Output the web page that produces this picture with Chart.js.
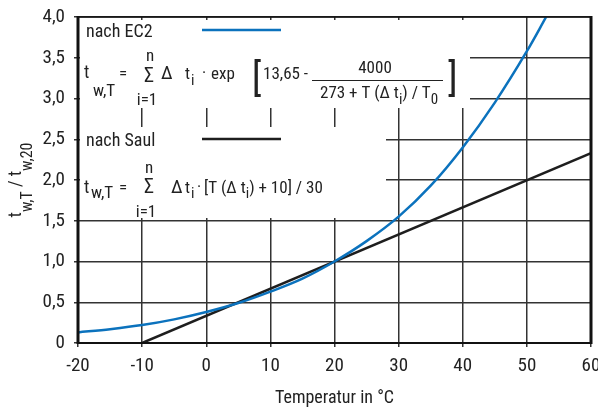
<!DOCTYPE html>
<html><head><meta charset="utf-8">
<script src="https://cdn.jsdelivr.net/npm/chart.js@4"></script>
<style>html,body{margin:0;padding:0;background:#fff}#wrap{width:598px;height:409px;position:relative}</style>
</head><body><div id="wrap"><canvas id="c" width="598" height="409"></canvas></div>
<script>
// ---- data ----
const ec2Temps  = [-20, -15, -10, -5, 0, 5, 10, 15, 20, 25, 30, 35, 40, 45, 50, 53];
const ec2Values = [0.13, 0.17, 0.22, 0.29, 0.38, 0.49, 0.63, 0.79, 1.0, 1.25, 1.55, 1.93, 2.40, 2.95, 3.58, 4.0];
const saulTemps  = [-10, 60];
const saulValues = [0, 2.33];
const xTickValues = [-20, -10, 0, 10, 20, 30, 40, 50, 60];
const yTickValues = [0, 0.5, 1, 1.5, 2, 2.5, 3, 3.5, 4];
const xTitle = 'Temperatur in °C';

const F = '"Roboto Condensed", "Liberation Sans Narrow", "DejaVu Sans Condensed", sans-serif';
const TXT = '#222';
const BLUE = '#0b72bd';
const BLACK = '#1e1e1e';

function txt(ctx, s, x, y, size, align, weight) {
  ctx.font = (weight ? weight + ' ' : '') + size + 'px ' + F;
  ctx.textAlign = align || 'left';
  ctx.textBaseline = 'alphabetic';
  ctx.fillStyle = TXT;
  ctx.fillText(s, x, y);
  return x + ctx.measureText(s).width;
}

const overlay = {
  id: 'overlay',
  beforeDatasetsDraw(chart) {
    const ctx = chart.ctx;
    ctx.save();
    ctx.fillStyle = '#fff';
    ctx.fillRect(80, 20, 390, 88);
    ctx.fillRect(80, 127, 306, 91);
    ctx.restore();
  },
  afterDatasetsDraw(chart) {
    const ctx = chart.ctx;
    const a = chart.chartArea;
    ctx.save();
    ctx.strokeStyle = '#111';
    ctx.lineWidth = 1.6;
    ctx.beginPath(); ctx.moveTo(a.left, a.top); ctx.lineTo(a.right, a.top); ctx.stroke();
    ctx.lineWidth = 2;
    ctx.beginPath(); ctx.moveTo(a.left, a.bottom); ctx.lineTo(a.right, a.bottom); ctx.stroke();
    ctx.lineWidth = 3;
    ctx.beginPath(); ctx.moveTo(a.left, a.top - 1); ctx.lineTo(a.left, a.bottom + 1); ctx.stroke();
    ctx.beginPath(); ctx.moveTo(a.right, a.top - 1); ctx.lineTo(a.right, a.bottom + 1); ctx.stroke();

    // legend samples
    ctx.lineWidth = 2.5;
    ctx.strokeStyle = BLUE;
    ctx.beginPath(); ctx.moveTo(202, 30); ctx.lineTo(281, 30); ctx.stroke();
    ctx.strokeStyle = BLACK;
    ctx.beginPath(); ctx.moveTo(202, 139); ctx.lineTo(281, 139); ctx.stroke();

    txt(ctx, 'nach EC2', 86, 37, 18);
    txt(ctx, 'nach Saul', 86, 146, 18);

    // formula 1
    const B1 = 79;
    txt(ctx, 't', 84, B1 - 1, 18);
    txt(ctx, 'w,T', 93, B1 + 17, 17);
    txt(ctx, '=', 119, B1, 17);
    txt(ctx, 'Σ', 144, B1 + 3, 20);
    txt(ctx, 'n', 150, B1 - 18, 17, 'center');
    txt(ctx, 'i=1', 147, B1 + 26, 17, 'center');
    txt(ctx, 'Δ', 161, B1, 19);
    txt(ctx, 't', 185, B1, 17);
    txt(ctx, 'i', 191, B1 + 6, 15);
    txt(ctx, '·', 202, B1 - 1, 17);
    txt(ctx, 'exp', 211, B1, 17);
    txt(ctx, '[', 252, 91, 38);
    txt(ctx, '13,65 -', 263, B1, 17);
    txt(ctx, '4000', 375, 73, 17, 'center');
    ctx.strokeStyle = '#222'; ctx.lineWidth = 1.2;
    ctx.beginPath(); ctx.moveTo(312, 80.5); ctx.lineTo(443, 80.5); ctx.stroke();
    let x = txt(ctx, '273 + T (Δ t', 320, 98, 17);
    x = txt(ctx, 'i', x, 104, 15);
    x = txt(ctx, ') / T', x, 98, 17);
    txt(ctx, '0', x, 104, 15);
    txt(ctx, ']', 448, 91, 38);

    // formula 2
    const B2 = 193;
    txt(ctx, 't', 84, B2, 18);
    txt(ctx, 'w,T', 91, B2 + 5, 17);
    txt(ctx, '=', 119, B2, 17);
    txt(ctx, 'Σ', 144, B2, 20);
    txt(ctx, 'n', 149, B2 - 20, 17, 'center');
    txt(ctx, 'i=1', 146, B2 + 24, 17, 'center');
    txt(ctx, 'Δ', 171, B2, 19);
    x = txt(ctx, 't', 185, B2, 17);
    txt(ctx, 'i', x + 1, B2 + 5, 15);
    txt(ctx, '·', 197, B2 - 1, 17);
    x = txt(ctx, '[T (Δ t', 204, B2, 17);
    x = txt(ctx, 'i', x, B2 + 5, 15);
    txt(ctx, ') + 10] / 30', x, B2, 17);

    // y axis title
    ctx.translate(21, 180);
    ctx.rotate(-Math.PI / 2);
    const parts = [['t', 18, 0], ['w,T', 16, 11], [' / ', 18, 0], ['t', 18, 0], ['w,20', 16, 11]];
    let w = 0;
    parts.forEach(p => { ctx.font = p[1] + 'px ' + F; w += ctx.measureText(p[0]).width; });
    let px = -w / 2;
    parts.forEach(p => { px = txt(ctx, p[0], px, p[2], p[1]); });
    ctx.restore();
  }
};

new Chart(document.getElementById('c'), {
  type: 'scatter',
  data: {
    datasets: [
      {
        label: 'nach EC2',
        data: ec2Temps.map((t, i) => ({ x: t, y: ec2Values[i] })),
        showLine: true, borderColor: BLUE, borderWidth: 2.5,
        pointRadius: 0, cubicInterpolationMode: 'monotone', fill: false
      },
      {
        label: 'nach Saul',
        data: saulTemps.map((t, i) => ({ x: t, y: saulValues[i] })),
        showLine: true, borderColor: BLACK, borderWidth: 2.5,
        pointRadius: 0, fill: false
      }
    ]
  },
  options: {
    responsive: false, animation: false, devicePixelRatio: 1,
    layout: { padding: { top: 17, right: 7, bottom: 0, left: 0 } },
    plugins: { legend: { display: false }, tooltip: { enabled: false } },
    scales: {
      x: {
        type: 'linear', min: -20, max: 60,
        afterBuildTicks: s => { s.ticks = xTickValues.map(v => ({ value: v })); },
        grid: { color: '#333', lineWidth: 1.5, tickLength: 4 },
        border: { display: false },
        ticks: { font: { family: F, size: 19 }, color: TXT, padding: 8, maxRotation: 0, autoSkip: false,
                 callback: v => String(v) },
        title: { display: true, text: xTitle, font: { family: F, size: 18 }, color: TXT, padding: { top: 0, bottom: 0 } },
        afterFit: s => { s.height = 66; s.paddingLeft = 0; s.paddingRight = 0; }
      },
      y: {
        type: 'linear', min: 0, max: 4,
        afterBuildTicks: s => { s.ticks = yTickValues.map(v => ({ value: v })); },
        grid: { color: '#333', lineWidth: 1.5, tickLength: 4 },
        border: { display: false },
        ticks: { font: { family: F, size: 19 }, color: TXT, padding: 9, autoSkip: false,
                 callback: v => v === 0 ? '0' : v.toFixed(1).replace('.', ',') },
        afterFit: s => { s.width = 78; s.paddingTop = 0; s.paddingBottom = 0; }
      }
    }
  },
  plugins: [overlay]
});
</script></body></html>
